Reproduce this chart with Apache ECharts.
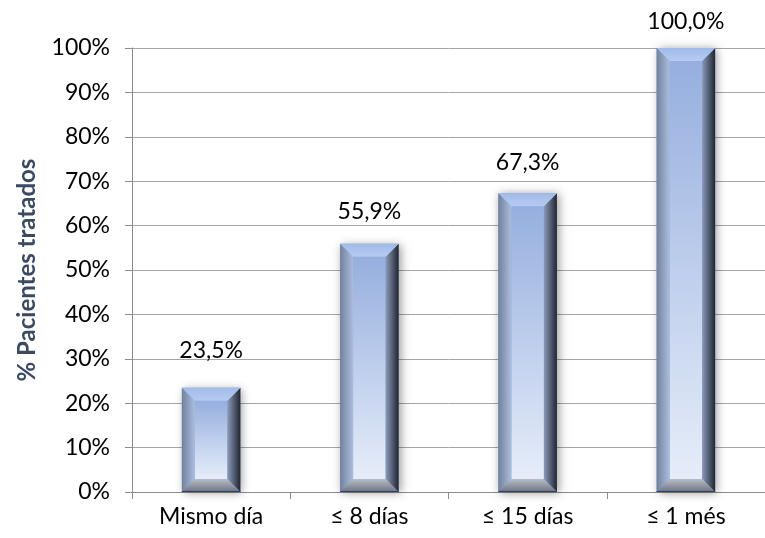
<!DOCTYPE html>
<html>
<head>
<meta charset="utf-8">
<script src="https://cdn.jsdelivr.net/npm/echarts@6/dist/echarts.min.js"></script>
<style>
html,body{margin:0;padding:0;background:#fff;}
#chart{width:765px;height:538px;}
</style>
</head>
<body>
<div id="chart"></div>
<script>
const categories = ['Mismo día', '≤ 8 días', '≤ 15 días', '≤ 1 més'];
const values = [23.5, 55.9, 67.3, 100.0];
const yMin = 0, yMax = 100, yStep = 10;
const axisName = '% Pacientes tratados';

const FONT = 'Lato, "Open Sans", sans-serif';
const chart = echarts.init(document.getElementById('chart'));

function fmt(v) { return v.toFixed(1).replace('.', ',') + '%'; }

function renderBar(params, api) {
  const cat = api.value(0), v = api.value(1);
  const top = api.coord([cat, v]);
  const base = api.coord([cat, 0]);
  const w = api.size([1, 0])[0] * 0.37;
  const L = top[0] - w / 2, R = top[0] + w / 2, T = top[1], B = base[1];
  const b = Math.min(13, (B - T) / 2);
  const lin = (x1, y1, x2, y2, stops) => new echarts.graphic.LinearGradient(x1, y1, x2, y2, stops);
  const labelOffset = 40 - 0.14 * v;
  return {
    type: 'group',
    children: [
      { type: 'rect', shape: { x: L, y: T, width: R - L, height: B - T },
        style: { fill: '#8fa3c8', shadowBlur: 9, shadowColor: 'rgba(0,0,0,0.4)', shadowOffsetX: 2, shadowOffsetY: 1 } },
      { type: 'rect', shape: { x: L + b, y: T + b, width: R - L - 2 * b, height: B - T - 2 * b },
        style: { fill: lin(0, 0, 0, 1, [{ offset: 0, color: '#96afdf' }, { offset: 1, color: '#e6edf9' }]) } },
      { type: 'polygon', shape: { points: [[L, T], [L + b, T + b], [L + b, B - b], [L, B]] },
        style: { fill: lin(0, 0, 1, 0, [{ offset: 0, color: '#72819c' }, { offset: 1, color: '#abbedf' }]) } },
      { type: 'polygon', shape: { points: [[R, T], [R - b, T + b], [R - b, B - b], [R, B]] },
        style: { fill: lin(0, 0, 1, 0, [{ offset: 0, color: '#8b9aba' }, { offset: 1, color: '#1f2530' }]) } },
      { type: 'polygon', shape: { points: [[L, T], [R, T], [R - b, T + b], [L + b, T + b]] },
        style: { fill: lin(0, 0, 0, 1, [{ offset: 0, color: '#a0baea' }, { offset: 1, color: '#b6cbf1' }]) } },
      { type: 'polygon', shape: { points: [[L, B], [R, B], [R - b, B - b], [L + b, B - b]] },
        style: { fill: lin(0, 0, 0, 1, [{ offset: 0, color: '#b8bec8' }, { offset: 1, color: '#6c7380' }]) } },
      { type: 'line', shape: { x1: L, y1: B - 0.5, x2: R, y2: B - 0.5 },
        style: { stroke: '#2c3e6a', lineWidth: 1 } },
      { type: 'text', x: top[0], y: T - labelOffset,
        style: { text: fmt(v), fill: '#000', font: '23px ' + FONT, align: 'center', verticalAlign: 'middle' } }
    ]
  };
}

chart.setOption({
  animation: false,
  backgroundColor: '#fff',
  grid: { left: 132, top: 48, bottom: 46, width: 641 },
  xAxis: {
    type: 'category',
    data: categories,
    boundaryGap: true,
    axisLine: { lineStyle: { color: '#8c8c8c', width: 1 } },
    axisTick: { show: true, length: 7, lineStyle: { color: '#8c8c8c' } },
    axisLabel: { color: '#000', fontFamily: FONT, fontSize: 23, margin: 13 }
  },
  yAxis: {
    type: 'value',
    min: yMin, max: yMax, interval: yStep,
    name: axisName,
    nameLocation: 'middle',
    nameGap: 93,
    nameTextStyle: { color: '#3b4a62', fontFamily: FONT, fontSize: 24, fontWeight: 'bold' },
    axisLine: { show: true, lineStyle: { color: '#8c8c8c', width: 1 } },
    axisTick: { show: true, length: 7, lineStyle: { color: '#8c8c8c' } },
    axisLabel: { color: '#000', fontFamily: FONT, fontSize: 23, margin: 22, formatter: '{value}%' },
    splitLine: { show: true, lineStyle: { color: '#a6a6a6', width: 1 } }
  },
  series: [{
    type: 'custom',
    renderItem: renderBar,
    encode: { x: 0, y: 1 },
    data: values.map((v, i) => [i, v]),
    z: 5
  }]
});
</script>
</body>
</html>
